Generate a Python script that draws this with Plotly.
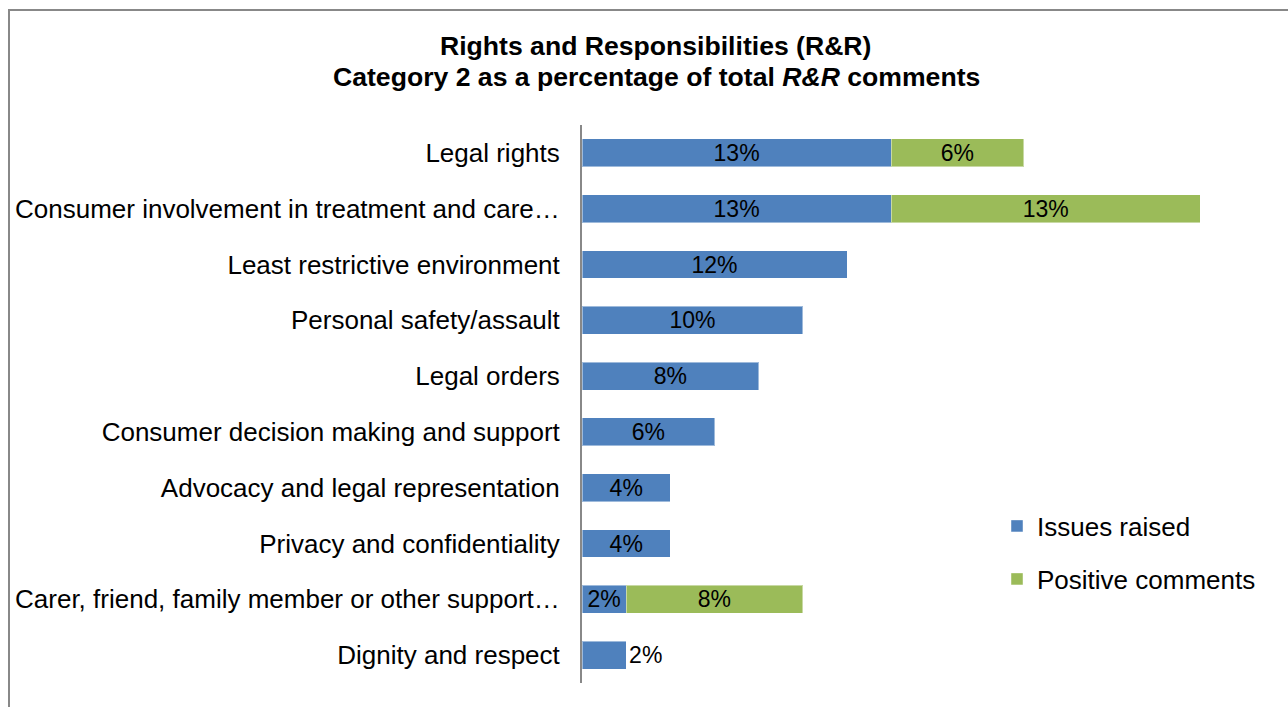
import plotly.graph_objects as go

categories = [
    "Legal rights",
    "Consumer involvement in treatment and care…",
    "Least restrictive environment",
    "Personal safety/assault",
    "Legal orders",
    "Consumer decision making and support",
    "Advocacy and legal representation",
    "Privacy and confidentiality",
    "Carer, friend, family member or other support…",
    "Dignity and respect",
]
issues_raised = [13.46, 13.46, 11.54, 9.62, 7.69, 5.77, 3.85, 3.85, 1.92, 1.92]
positive_comments = [5.77, 13.46, None, None, None, None, None, None, 7.69, None]

title_line1 = "Rights and Responsibilities (R&R)"
title_line2 = "Category 2 as a percentage of total <i>R&R</i> comments"

FONT = "Liberation Sans, Arial, sans-serif"
BLUE = "#4F81BD"
GREEN = "#9BBB59"

W, H = 1288, 707
L, R_PX = 582, 1212
T, B_PX = 125, 683
plot_w = R_PX - L
plot_h = B_PX - T

def px_x(p):
    return (p - L) / plot_w

def px_y(p):
    return (B_PX - p) / plot_h

fig = go.Figure()
fig.add_trace(go.Bar(
    y=categories, x=issues_raised, orientation="h", name="Issues raised",
    marker=dict(color=BLUE, line=dict(color="rgba(255,255,255,0.45)", width=1)),
    texttemplate="%{x:.0f}%",
    textposition=["inside"] * 9 + ["outside"],
    insidetextanchor="middle", textangle=0,
    textfont=dict(size=23, color="black", family=FONT),
    cliponaxis=False, legend="legend",
))
fig.add_trace(go.Bar(
    y=categories, x=positive_comments, orientation="h", name="Positive comments",
    marker=dict(color=GREEN, line=dict(color="rgba(255,255,255,0.45)", width=1)),
    texttemplate="%{x:.0f}%", textposition="inside",
    insidetextanchor="middle", textangle=0,
    textfont=dict(size=23, color="black", family=FONT),
    cliponaxis=False, legend="legend2",
))

fig.add_annotation(text="<b>" + title_line1 + "</b>", xref="paper", yref="paper",
                   x=px_x(655), y=px_y(46), xanchor="center", yanchor="middle",
                   showarrow=False, font=dict(size=26.6, family=FONT, color="black"))
fig.add_annotation(text="<b>" + title_line2 + "</b>", xref="paper", yref="paper",
                   x=px_x(656), y=px_y(77), xanchor="center", yanchor="middle",
                   showarrow=False, font=dict(size=26.6, family=FONT, color="black"))

fig.update_layout(
    width=W, height=H,
    margin=dict(l=L, r=W - R_PX, t=T, b=H - B_PX, autoexpand=False),
    barmode="stack", bargap=0.5,
    paper_bgcolor="white", plot_bgcolor="white",
    font=dict(family=FONT, size=26, color="black"),
    uniformtext=dict(mode="show", minsize=23),
    xaxis=dict(range=[0, plot_w / 22.97], visible=False, fixedrange=True),
    yaxis=dict(
        autorange=False, range=[9.5, -0.5], type="category",
        showline=True, linecolor="#888888", linewidth=2,
        showgrid=False, zeroline=False, ticks="",
        ticklabelstandoff=15,
        tickfont=dict(size=26, family=FONT, color="black"),
    ),
    legend=dict(x=px_x(997), y=px_y(526), xanchor="left", yanchor="middle",
                font=dict(size=26, family=FONT, color="black"),
                bgcolor="rgba(0,0,0,0)", itemclick=False),
    legend2=dict(x=px_x(997), y=px_y(579), xanchor="left", yanchor="middle",
                 font=dict(size=26, family=FONT, color="black"),
                 bgcolor="rgba(0,0,0,0)", itemclick=False),
    showlegend=True,
    shapes=[dict(type="rect", xref="paper", yref="paper",
                 x0=px_x(9), x1=px_x(1400), y0=px_y(800), y1=px_y(10),
                 line=dict(color="#888888", width=2), fillcolor="rgba(0,0,0,0)",
                 layer="below")],
)

fig.write_html("out.html")
